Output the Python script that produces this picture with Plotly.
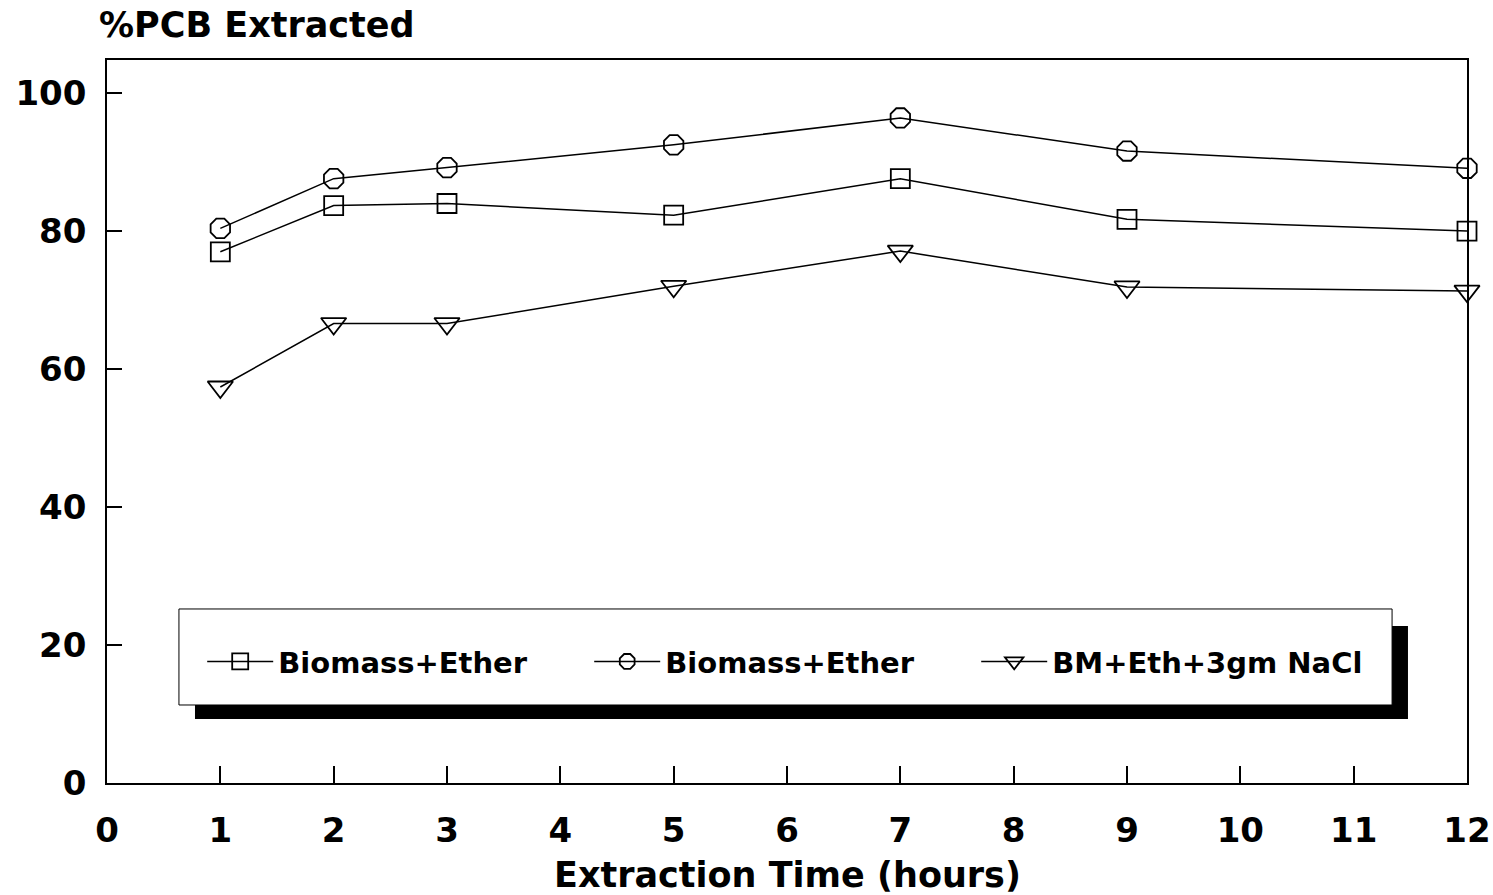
import plotly.graph_objects as go

hours = [1, 2, 3, 5, 7, 9, 12]
biomass_ether_sq = [77.0, 83.7, 84.0, 82.3, 87.6, 81.7, 80.0]
biomass_ether_circ = [80.4, 87.6, 89.2, 92.5, 96.4, 91.6, 89.1]
bm_eth_nacl = [57.4, 66.6, 66.6, 72.0, 77.1, 71.9, 71.3]
names = ["Biomass+Ether", "Biomass+Ether", "BM+Eth+3gm NaCl"]
x_ticks = list(range(0, 13))
y_ticks = [0, 20, 40, 60, 80, 100]

FONT = "DejaVu Sans"

fig = go.Figure()
series = [
    (biomass_ether_sq, "square-open", 19),
    (biomass_ether_circ, "octagon-open", 21),
    (bm_eth_nacl, "triangle-down-open", 22),
]
for (vals, sym, size), name in zip(series, names):
    fig.add_trace(go.Scatter(
        x=hours, y=vals, name=name, mode="lines+markers",
        line=dict(color="black", width=1.5),
        marker=dict(symbol=sym, size=size, color="black", line=dict(width=1.8, color="black")),
        cliponaxis=False,
    ))

axis_common = dict(
    showgrid=False, zeroline=False, showline=True, linecolor="black", linewidth=1.5,
    mirror=True, ticks="inside", tickcolor="black", tickwidth=1.5,
    tickfont=dict(family=FONT, size=34, color="black", weight="bold"),
    ticklabeloverflow="allow", automargin=False,
)
fig.update_xaxes(range=[0, 12], tickvals=x_ticks, ticklen=17, ticklabelstandoff=16, **axis_common)
fig.update_yaxes(range=[0, 104.8], tickvals=y_ticks, ticklen=15, ticklabelstandoff=12, **axis_common)

# legend box with drop shadow
fig.add_shape(type="rect", xref="paper", yref="paper", x0=0.0647, x1=0.9566, y0=0.0885, y1=0.2172,
              fillcolor="black", line=dict(width=0), layer="above")
fig.add_shape(type="rect", xref="paper", yref="paper", x0=0.0529, x1=0.9449, y0=0.1079, y1=0.2407,
              fillcolor="white", line=dict(color="black", width=1), layer="above")

fig.add_annotation(text="%PCB Extracted", xref="paper", yref="paper", x=-0.0074, y=1.048,
                   xanchor="left", yanchor="middle", showarrow=False,
                   font=dict(family=FONT, size=35, color="black", weight="bold"))
fig.add_annotation(text="Extraction Time (hours)", xref="paper", yref="paper", x=0.5, y=-0.127,
                   xanchor="center", yanchor="middle", showarrow=False,
                   font=dict(family=FONT, size=35, color="black", weight="bold"))

fig.update_layout(
    width=1493, height=895,
    margin=dict(l=107, r=26, t=60, b=112, autoexpand=False),
    paper_bgcolor="white", plot_bgcolor="white",
    showlegend=True,
    legend=dict(orientation="h", x=0.07, y=0.168, xanchor="left", yanchor="middle",
                bgcolor="rgba(0,0,0,0)", borderwidth=0,
                entrywidth=306, entrywidthmode="pixels", itemwidth=66,
                font=dict(family=FONT, size=29, color="black", weight="bold")),
)

fig.write_html("out.html")
